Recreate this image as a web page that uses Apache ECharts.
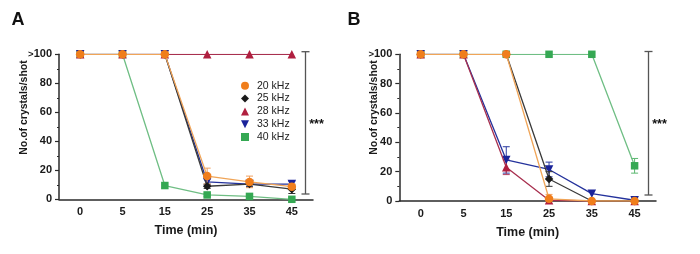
<!DOCTYPE html>
<html><head><meta charset="utf-8">
<script src="https://cdn.jsdelivr.net/npm/echarts@6/dist/echarts.min.js"></script>
<style>html,body{margin:0;padding:0;background:#fff}#c{width:700px;height:254px}</style>
</head><body><div id="c"></div>
<script>
var categories = ['0','5','15','25','35','45'];
var names = ['20 kHz','25 kHz','28 kHz','33 kHz','40 kHz'];
var yTicks = [0,20,40,60,80,100];
// Panel A values
var A_20 = [100,100,100,16,12,8.7];
var A_25 = [100,100,100,9,10.5,7];
var A_28 = [100,100,100,100,100,100];
var A_33 = [100,100,100,12,10.5,10.5];
var A_40 = [100,100,9.5,3,2,0];
// Panel A errors
var A_20_err = [0,0,0,5.5,4,2];
var A_25_err = [0,0,0,1.5,2,3];
var A_28_err = [0,0,0,0,0,0];
var A_33_err = [0,0,0,2,1.5,2];
var A_40_err = [0,0,0,1,0.5,0];
// Panel B values
var B_20 = [100,100,100,1.5,0,0];
var B_25 = [100,100,100,15,0,0];
var B_28 = [100,100,23,0.5,0,0];
var B_33 = [100,100,28,21.5,5,0.5];
var B_40 = [100,100,100,100,100,24];
// Panel B errors
var B_20_err = [0,0,0,3,0,0];
var B_25_err = [0,0,0,5,0,0];
var B_28_err = [0,0,5,0,0,0];
var B_33_err = [0,0,9,5,0,1.5];
var B_40_err = [0,0,0,0,0,5];

var FONT = "'Liberation Sans', Arial, sans-serif";
var styles = [
  {sym:'circle', size:8.5, color:'#F07E1C', line:'#F0A558', err:'#F0A060'},
  {sym:'diamond', size:8.5, color:'#1a1a1a', line:'#3a3a3a', err:'#333333'},
  {sym:'triangle', size:8.5, color:'#B01F3F', line:'#A8304F', err:'#B04060'},
  {sym:'path://M0,0L10,0L5,10Z', size:8.5, color:'#1A239A', line:'#24329C', err:'#2A3AA0'},
  {sym:'rect', size:7.5, color:'#35A853', line:'#6FBE84', err:'#5BB870'}
];
var A_vals = [A_20,A_25,A_28,A_33,A_40];
var A_errs = [A_20_err,A_25_err,A_28_err,A_33_err,A_40_err];
var B_vals = [B_20,B_25,B_28,B_33,B_40];
var B_errs = [B_20_err,B_25_err,B_28_err,B_33_err,B_40_err];

function errSeries(idx, vals, errs, st, z) {
  var d = [];
  for (var i = 0; i < vals.length; i++) if (errs[i] > 0) d.push([i, vals[i], errs[i]]);
  return {
    type:'custom', xAxisIndex:idx, yAxisIndex:idx, z:z, silent:true,
    data:d,
    renderItem:function(params, api){
      var x = api.value(0), v = api.value(1), e = api.value(2);
      var hi = api.coord([x, v+e]), lo = api.coord([x, Math.max(0, v-e)]);
      var w = 3.5;
      var s = {stroke:st.err, lineWidth:1};
      return {type:'group', children:[
        {type:'line', shape:{x1:hi[0],y1:hi[1],x2:lo[0],y2:lo[1]}, style:s},
        {type:'line', shape:{x1:hi[0]-w,y1:hi[1],x2:hi[0]+w,y2:hi[1]}, style:s},
        {type:'line', shape:{x1:lo[0]-w,y1:lo[1],x2:lo[0]+w,y2:lo[1]}, style:s}
      ]};
    }
  };
}

var series = [];
var order = [4,3,2,1,0];
[[0,A_vals,A_errs],[1,B_vals,B_errs]].forEach(function(p){
  order.forEach(function(k, j){
    var st = styles[k];
    series.push({
      name:names[k], type:'line', xAxisIndex:p[0], yAxisIndex:p[0],
      data:p[1][k], symbol:st.sym, symbolSize:st.size, z:3+j,
      lineStyle:{color:st.line, width:1.3},
      itemStyle:{color:st.color},
      emphasis:{disabled:true}
    });
    series.push(errSeries(p[0], p[1][k], p[2][k], st, 2+j));
  });
});

function xAx(i){
  return {type:'category', gridIndex:i, data:categories, boundaryGap:true,
    axisLine:{lineStyle:{color:'#2a2a2a', width:1.5}},
    axisTick:{alignWithLabel:true, length:3, lineStyle:{color:'#2a2a2a', width:1.2}},
    axisLabel:{color:'#1a1a1a', fontFamily:FONT, fontWeight:'bold', fontSize:11, margin:7},
    name:'Time (min)', nameLocation:'middle', nameGap:25,
    nameTextStyle:{color:'#1a1a1a', fontFamily:FONT, fontWeight:'bold', fontSize:12.5}
  };
}
function yAx(i){
  return {type:'value', gridIndex:i, min:yTicks[0], max:yTicks[yTicks.length-1], interval:20,
    axisLine:{show:true, lineStyle:{color:'#2a2a2a', width:1.5}},
    axisTick:{show:true, length:4, lineStyle:{color:'#2a2a2a', width:1.2}},
    minorTick:{show:true, splitNumber:2, length:2, lineStyle:{color:'#2a2a2a', width:1}},
    splitLine:{show:false},
    axisLabel:{color:'#1a1a1a', fontFamily:FONT, fontWeight:'bold', fontSize:11, margin:7,
      formatter:function(v){ return v === 100 ? '{s|>}100' : String(v); },
      rich:{s:{fontSize:9.5, fontFamily:FONT, fontWeight:'bold', color:'#1a1a1a'}}
    }
  };
}

function bracket(x, y1, y2){
  var s = {stroke:'#555', lineWidth:1.3};
  return [
    {type:'line', shape:{x1:x,y1:y1,x2:x,y2:y2}, style:s},
    {type:'line', shape:{x1:x-4,y1:y1,x2:x+4,y2:y1}, style:s},
    {type:'line', shape:{x1:x-4,y1:y2,x2:x+4,y2:y2}, style:s}
  ];
}

var graphics = [
  {type:'text', x:18, y:20, style:{text:'A', font:'bold 18px '+FONT, fill:'#111', align:'center', verticalAlign:'middle'}},
  {type:'text', x:354, y:20, style:{text:'B', font:'bold 18px '+FONT, fill:'#111', align:'center', verticalAlign:'middle'}},
  {type:'text', x:24.5, y:107.5, rotation:Math.PI/2, style:{text:'No.of crystals/shot', font:'bold 10.5px '+FONT, fill:'#1a1a1a', align:'center', verticalAlign:'middle'}},
  {type:'text', x:374.5, y:107.5, rotation:Math.PI/2, style:{text:'No.of crystals/shot', font:'bold 10.5px '+FONT, fill:'#1a1a1a', align:'center', verticalAlign:'middle'}},
  {type:'text', x:316.5, y:125, style:{text:'***', font:'bold 12.5px '+FONT, fill:'#111', align:'center', verticalAlign:'middle'}},
  {type:'text', x:659.5, y:125, style:{text:'***', font:'bold 12.5px '+FONT, fill:'#111', align:'center', verticalAlign:'middle'}}
].concat(bracket(305.5, 51.7, 194)).concat(bracket(648.5, 51.5, 195));

var chart = echarts.init(document.getElementById('c'), null, {renderer:'canvas'});
chart.setOption({
  animation:false,
  backgroundColor:'#fff',
  grid:[
    {left:59, top:54.3, width:254, height:145},
    {left:399.3, top:54.3, width:256.7, height:146.7}
  ],
  xAxis:[xAx(0), xAx(1)],
  yAxis:[yAx(0), yAx(1)],
  legend:{
    orient:'vertical', left:241, top:79.8, padding:0, itemWidth:8, itemHeight:8, itemGap:0.8,
    textStyle:{fontFamily:FONT, fontSize:10.5, color:'#222', lineHeight:12, padding:[0,0,0,3]},
    data:names.map(function(n, k){ return {name:n, icon:styles[k].sym === 'rect' ? 'rect' : styles[k].sym}; }),
    selectedMode:false
  },
  series:series,
  graphic:graphics
});
</script></body></html>
